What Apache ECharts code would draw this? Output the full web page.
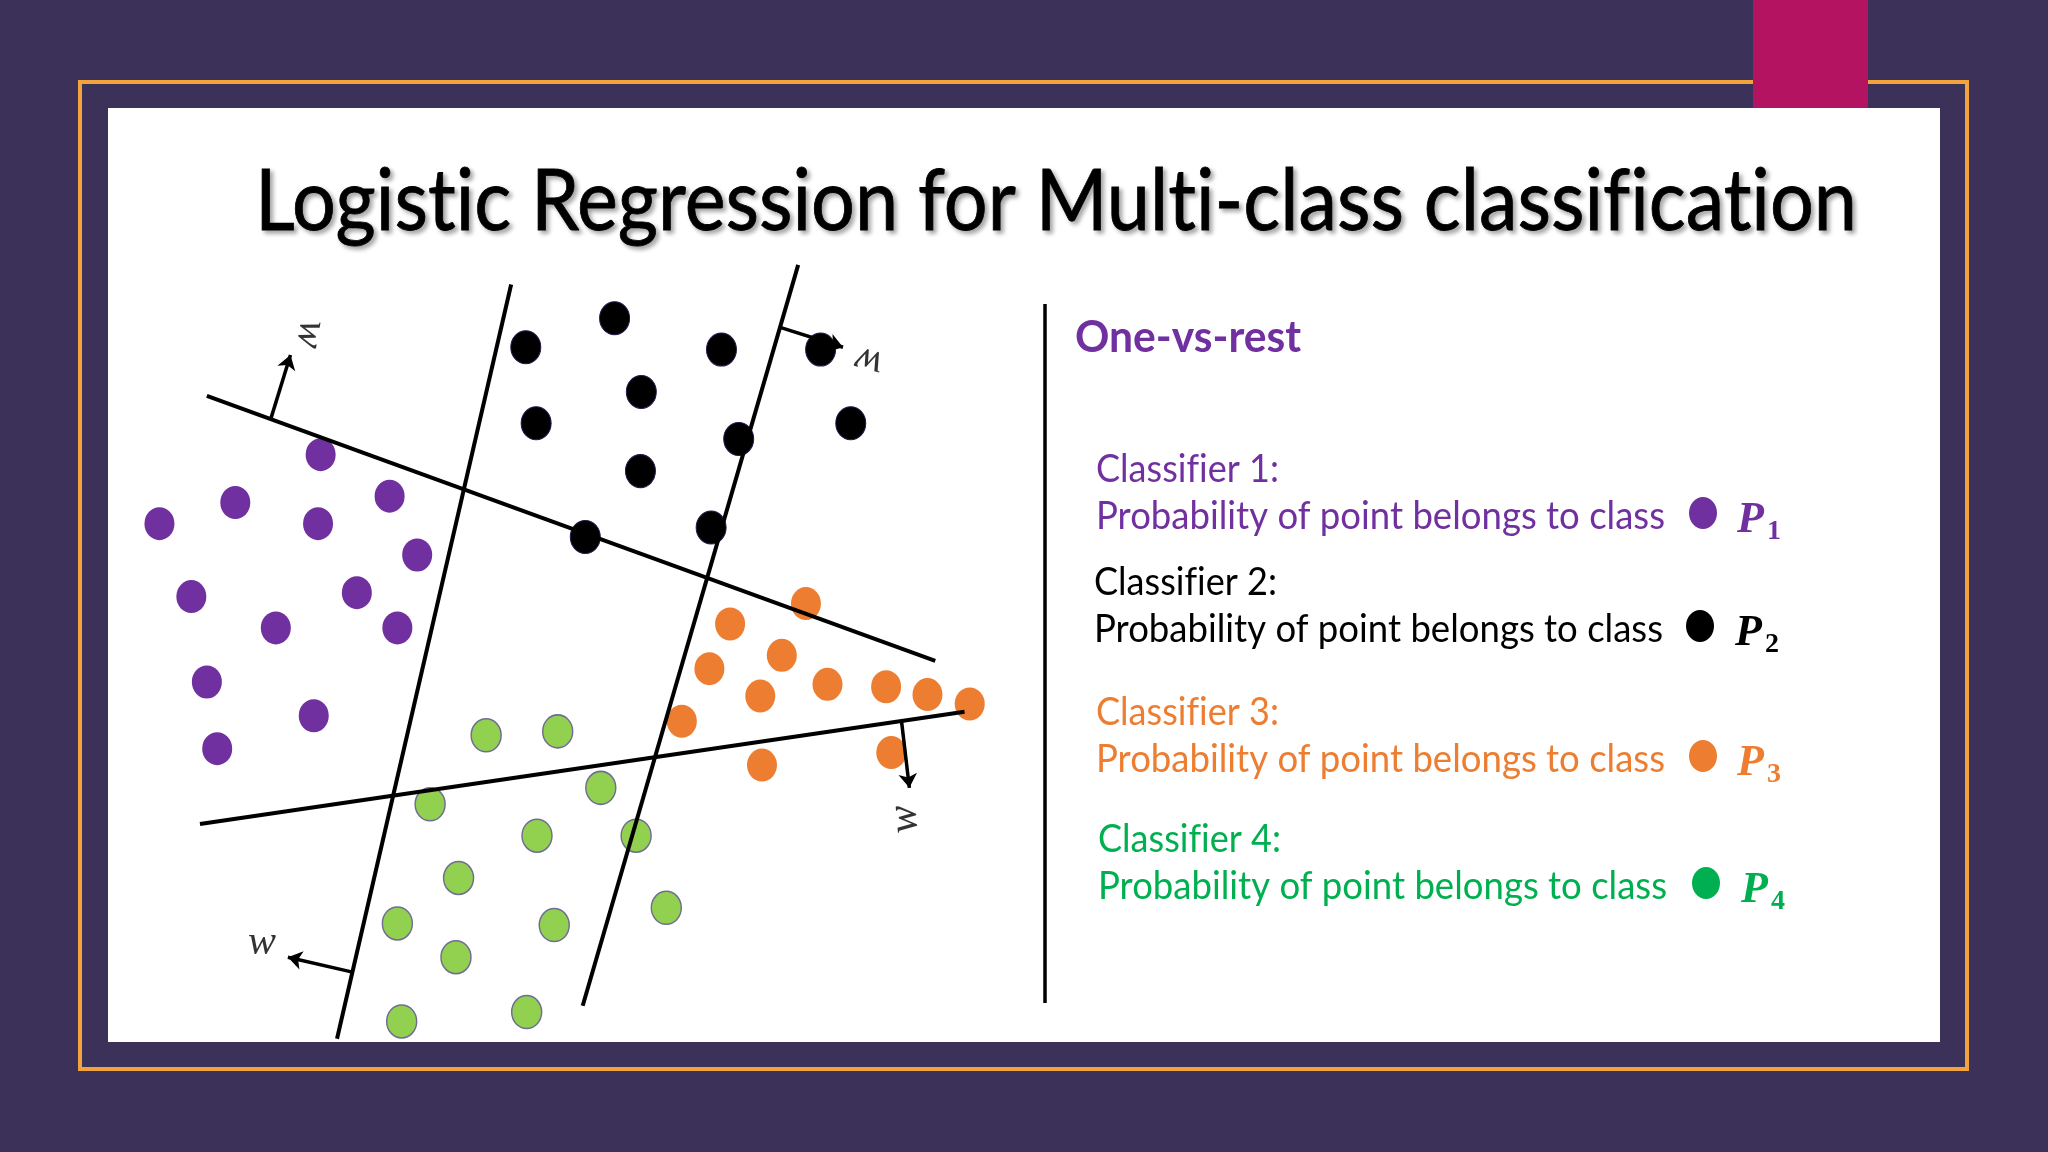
<!DOCTYPE html>
<html lang="en">
<head>
  <meta charset="UTF-8">
  <title>Logistic Regression for Multi-class classification</title>
  <script src="https://cdn.jsdelivr.net/npm/echarts@6.0.0/dist/echarts.min.js"></script>
  <style>
    html, body { margin: 0; padding: 0; background: #3c3158; }
  </style>
</head>
<body>
  <div id="main" style="width: 2048px;height:1152px;"></div>

  <script type="text/javascript">
    // points of each class, in plot units (x 0..10, y 0..10)
    const purplePts = [[2.20, 7.53], [1.21, 6.92], [0.33, 6.65], [2.17, 6.65], [3.00, 7.00], [3.32, 6.25], [0.70, 5.72],
                       [2.62, 5.77], [1.68, 5.32], [3.09, 5.32], [0.88, 4.63], [2.12, 4.20], [1.00, 3.78]];
    const blackPts = [[4.58, 8.90], [5.61, 9.27], [6.85, 8.87], [8.00, 8.87], [5.92, 8.33], [4.70, 7.93],
                      [8.35, 7.93], [7.05, 7.73], [5.91, 7.32], [5.27, 6.48], [6.73, 6.60]];
    const orangePts = [[7.83, 5.63], [6.95, 5.37], [7.55, 4.97], [6.71, 4.80], [8.08, 4.60], [7.30, 4.45],
                       [8.76, 4.57], [9.24, 4.47], [9.73, 4.35], [6.39, 4.13], [7.32, 3.57], [8.82, 3.73]];
    const greenPts = [[4.12, 3.95], [4.95, 4.00], [5.45, 3.28], [3.47, 3.07], [4.71, 2.67], [5.86, 2.67], [3.80, 2.13],
                      [3.09, 1.55], [4.91, 1.53], [6.21, 1.75], [3.77, 1.12], [4.59, 0.42], [3.14, 0.30]];

    // decision boundaries and their normal vectors w
    const boundaryLines = [
      [[0.88, 8.28], [9.33, 4.90]],
      [[4.41, 9.70], [2.39, 0.08]],
      [[7.74, 9.95], [5.24, 0.50]],
      [[0.80, 2.82], [9.67, 4.25]]
    ];
    const normalArrows = [
      [[1.62, 7.98], [1.85, 8.80]],
      [[7.54, 9.15], [8.26, 8.90]],
      [[8.94, 4.12], [9.03, 3.28]],
      [[2.57, 0.93], [1.82, 1.12]]
    ];
    const normalLabelPts = [[2.08, 9.07], [8.56, 8.72], [8.98, 2.88], [1.52, 1.30]];

    // texts
    const slideTitle = 'Logistic Regression for Multi-class classification';
    const schemeName = 'One-vs-rest';
    const classifierNames = ['Classifier 1:', 'Classifier 2:', 'Classifier 3:', 'Classifier 4:'];
    const classifierText = 'Probability of point belongs to class';
    const probIndex = ['1', '2', '3', '4'];

    const classColors = ['#7030a0', '#000000', '#ed7d31', '#00b050'];

    // Lato joins "fi" / "ti"; the slide font does not, so break the ligatures
    function noLig(s) {
      return s.replace(/([ft])(?=[iltf])/g, '$1\u200C');
    }

    // squeeze a text so that it spans a given width (the slide uses a narrow font)
    const measureCtx = document.createElement('canvas').getContext('2d');
    function fitScale(text, font, target) {
      measureCtx.font = font;
      return target / measureCtx.measureText(text).width;
    }

    function textEl(text, x, y, font, color, targetW, extra) {
      let t = noLig(text);
      let el = {
        type: 'text',
        x: x, y: y, z: 10,
        scaleX: targetW ? fitScale(t, font, targetW) : 1,
        style: Object.assign({
          text: t, font: font, fill: color,
          textAlign: 'left', textVerticalAlign: 'middle',
          align: 'left', verticalAlign: 'middle'
        }, extra || {})
      };
      return el;
    }

    let graphics = [
      { type: 'rect', z: 0, shape: { x: 80, y: 82, width: 1887, height: 987 },
        style: { fill: 'none', stroke: '#f2a33b', lineWidth: 4 } },
      { type: 'rect', z: 0, shape: { x: 108, y: 108, width: 1832, height: 934 },
        style: { fill: '#ffffff' } },
      { type: 'rect', z: 1, shape: { x: 1753, y: 0, width: 115, height: 108 },
        style: { fill: '#b41362' } },
      { type: 'line', z: 1, shape: { x1: 1045, y1: 304, x2: 1045, y2: 1003 },
        style: { stroke: '#000', lineWidth: 3.5 } },
      textEl(slideTitle, 255, 203, '400 85px Lato', '#000', 1602, {
        stroke: '#000', lineWidth: 0.8,
        textShadowColor: 'rgba(0,0,0,0.35)', textShadowBlur: 4,
        textShadowOffsetX: 3, textShadowOffsetY: 3
      }),
      textEl(schemeName, 1075, 338, 'bold 43px Lato', '#7030a0', 226)
    ];

    const rowTop = [470, 583, 713, 840];
    const rowLeft = [1096, 1094, 1096, 1098];
    const dotX = [1703, 1700, 1703, 1706];
    const pX = [1737, 1735, 1737, 1741];
    rowTop.forEach((y, i) => {
      let y2 = y + 47;
      graphics.push(textEl(classifierNames[i], rowLeft[i], y, '38px Lato', classColors[i], 183));
      graphics.push(textEl(classifierText, rowLeft[i], y2, '38px Lato', classColors[i], 569));
      graphics.push({ type: 'ellipse', z: 10, shape: { cx: dotX[i], cy: y2 - 4, rx: 14, ry: 16 },
        style: { fill: classColors[i] } });
      graphics.push(textEl('P', pX[i], y2 + 4, 'italic bold 44px "Liberation Serif"', classColors[i]));
      graphics.push(textEl(probIndex[i], pX[i] + 30, y2 + 15, 'bold 28px "Liberation Serif"', classColors[i]));
    });

    const wRotate = [-100, 165, 95, 0];

    let myChart = echarts.init(document.getElementById('main'));

    let options = {
      backgroundColor: '#3c3158',
      animation: false,
      grid: { left: 131, top: 261, width: 862, height: 784, containLabel: false },
      xAxis: { type: 'value', min: 0, max: 10, show: false },
      yAxis: { type: 'value', min: 0, max: 10, show: false },
      graphic: { elements: graphics },
      series: [
        { type: 'scatter', name: 'class 1', data: purplePts, symbolSize: [30, 33], z: 2,
          itemStyle: { color: '#7030a0', opacity: 1 } },
        { type: 'scatter', name: 'class 2', data: blackPts, symbolSize: [30, 33], z: 2,
          itemStyle: { color: '#000000', borderColor: '#2a1650', borderWidth: 1, opacity: 1 } },
        { type: 'scatter', name: 'class 3', data: orangePts, symbolSize: [30, 33], z: 2,
          itemStyle: { color: '#ed7d31', opacity: 1 } },
        { type: 'scatter', name: 'class 4', data: greenPts, symbolSize: [30, 33], z: 2,
          itemStyle: { color: '#92d050', borderColor: '#6f6d92', borderWidth: 1.5, opacity: 1 } },
        { type: 'lines', coordinateSystem: 'cartesian2d', z: 5,
          data: boundaryLines.map((c) => ({ coords: c })),
          lineStyle: { color: '#000', width: 4, opacity: 1, curveness: 0 } },
        { type: 'lines', coordinateSystem: 'cartesian2d', z: 5,
          symbol: ['none', 'arrow'], symbolSize: 14,
          data: normalArrows.map((c) => ({ coords: c })),
          lineStyle: { color: '#000', width: 3.5, opacity: 1, curveness: 0 } },
        { type: 'scatter', z: 6, symbolSize: 1, itemStyle: { color: 'rgba(0,0,0,0)' },
          data: normalLabelPts.map((p, i) => ({ value: p, label: { rotate: wRotate[i] } })),
          label: { show: true, position: 'inside', formatter: 'w', color: '#000',
                   fontFamily: 'Liberation Serif', fontStyle: 'italic', fontSize: 42 } }
      ]
    };

    myChart.setOption(options);
  </script>
</body>
</html>
